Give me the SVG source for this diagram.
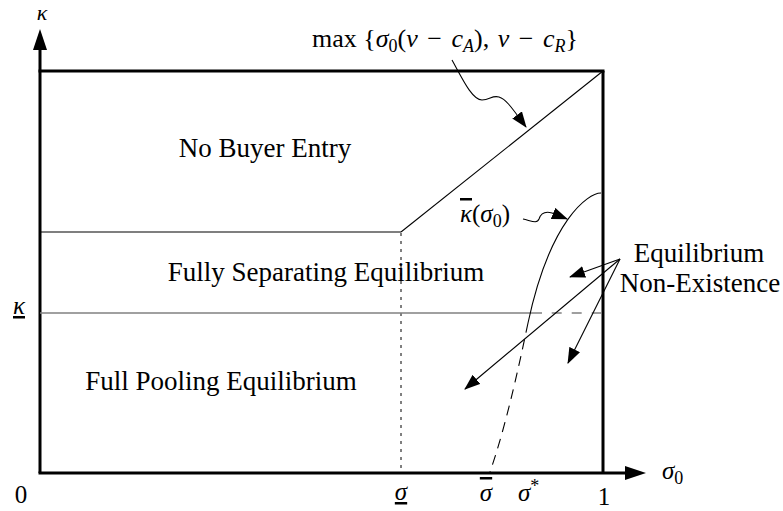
<svg xmlns="http://www.w3.org/2000/svg" width="783" height="511" viewBox="0 0 783 511">
<style>
text{font-family:"Liberation Serif","DejaVu Serif",serif;fill:#000}
.lbl{font-size:27px;text-anchor:middle}
.m{font-size:25px}
.it{font-style:italic}
.sub{font-size:18px}
.ax{stroke:#000;stroke-width:3;fill:none}
.thin{stroke:#000;stroke-width:1.1;fill:none}
.arr{stroke:#000;stroke-width:1.1;fill:none;marker-end:url(#ah)}
</style>
<defs>
<marker id="ah" viewBox="0 0 16 12" refX="15" refY="6" markerWidth="16" markerHeight="12" markerUnits="userSpaceOnUse" orient="auto">
<path d="M0,0 L16,6 L0,12 z" fill="#000"/>
</marker>
</defs>

<g id="axes">
<line class="ax" x1="40" y1="473" x2="40" y2="48"/>
<polygon points="40,29 33,50 47,50" fill="#000"/>
<line class="ax" x1="38.5" y1="473" x2="627" y2="473"/>
<polygon points="646,473 625,466 625,480" fill="#000"/>
<line class="ax" x1="38.5" y1="71" x2="604.5" y2="71"/>
<line class="ax" x1="603" y1="71" x2="603" y2="473"/>
</g>

<g id="boundaries">
<line class="thin" x1="40" y1="232" x2="401" y2="232"/>
<line class="thin" x1="401" y1="232" x2="603" y2="71"/>
<line x1="401" y1="233" x2="401" y2="472" stroke="#000" stroke-width="1" stroke-dasharray="3 5"/>
<line x1="40" y1="313" x2="542" y2="313" stroke="#808080" stroke-width="1.5"/>
<line x1="551.7" y1="313" x2="603" y2="313" stroke="#808080" stroke-width="1.5" stroke-dasharray="10 10"/>
<path class="thin" d="M601,193 C588,193 550,220 528,323"/>
<path d="M528,323 C522,351 508,420 490,472" fill="none" stroke="#000" stroke-width="1.1" stroke-dasharray="10 7"/>
</g>

<g id="regions">
<text id="no-buyer-entry" class="lbl" x="265" y="157">No Buyer Entry</text>
<text id="fully-separating" class="lbl" x="326" y="281">Fully Separating Equilibrium</text>
<text id="full-pooling" class="lbl" x="221" y="390">Full Pooling Equilibrium</text>
</g>

<g id="axis-labels" class="m">
<text x="42" y="20" class="it" text-anchor="middle" font-size="22">κ</text>
<text x="19" y="314" class="it" text-anchor="middle" text-decoration="underline">κ</text>
<text x="662" y="479"><tspan class="it">σ</tspan><tspan class="sub" dy="5">0</tspan></text>
<text x="21" y="503" text-anchor="middle">0</text>
<text x="401" y="500" class="it" text-anchor="middle" text-decoration="underline">σ</text>
<text x="486" y="501" class="it" text-anchor="middle" text-decoration="overline">σ</text>
<text x="518" y="501"><tspan class="it">σ</tspan><tspan class="sub" dy="-9">*</tspan></text>
<text x="604" y="505" text-anchor="middle">1</text>
</g>

<g id="max-label">
<text x="312" y="47" style="font-size:26px">max {<tspan class="it">σ</tspan><tspan class="sub" dy="5">0</tspan><tspan dy="-5">(</tspan><tspan class="it">v</tspan><tspan dx="3"> − </tspan><tspan class="it" dx="3">c</tspan><tspan class="it sub" dy="5">A</tspan><tspan dy="-5">), </tspan><tspan class="it" dx="2">v</tspan><tspan dx="3"> − </tspan><tspan class="it" dx="3">c</tspan><tspan class="it sub" dy="5">R</tspan><tspan dy="-5">}</tspan></text>
</g>

<g id="kappa-bar-label">
<text class="m" x="460" y="222"><tspan class="it" text-decoration="overline">κ</tspan>(<tspan class="it">σ</tspan><tspan class="sub" dy="5">0</tspan><tspan dy="-5">)</tspan></text>
</g>

<g id="non-existence-label">
<text class="lbl" x="699" y="262">Equilibrium</text>
<text class="lbl" x="700" y="292">Non-Existence</text>
</g>

<g id="connectors">
<path class="arr" d="M452,60 C462,78 472,100 482,100 C490,100 492,95 499,97 C506,99 512,108 526,127"/>
<path class="arr" d="M523,219 C532,221 537,224 539,219 C541,213 545,211 552,213 L567,219"/>
<line class="arr" x1="620" y1="259" x2="570" y2="277"/>
<line class="arr" x1="620" y1="259" x2="465" y2="389"/>
<line class="arr" x1="620" y1="259" x2="568" y2="363"/>
</g>
</svg>
